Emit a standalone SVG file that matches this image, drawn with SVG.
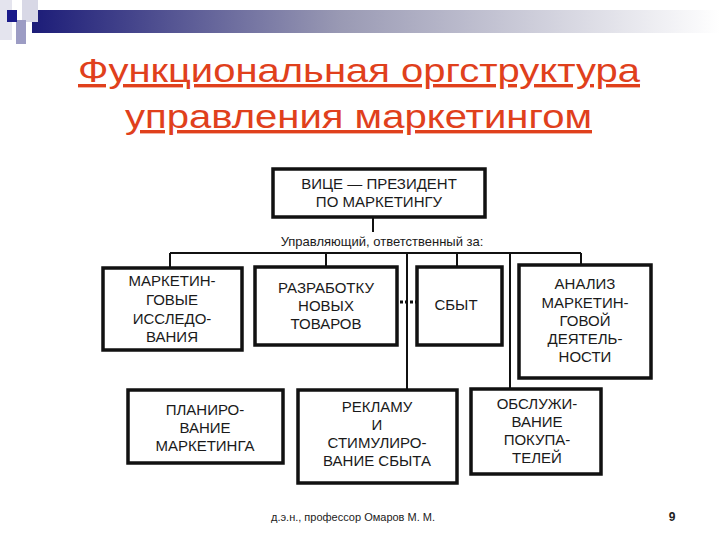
<svg xmlns="http://www.w3.org/2000/svg" width="720" height="540" viewBox="0 0 720 540">
<defs>
<linearGradient id="g" x1="0" x2="1" y1="0" y2="0">
<stop offset="0" stop-color="#1c1c78"/><stop offset="0.45" stop-color="#9a9ab4"/><stop offset="1" stop-color="#ffffff"/>
</linearGradient>
<style>
.box{fill:#fff;stroke:#111;stroke-width:3.5}
.t{font-family:"Liberation Sans",Arial,sans-serif;font-size:15px;fill:#1a1a1a;text-anchor:middle}
.ln{stroke:#111;stroke-width:2;fill:none}
.title{font-family:"Liberation Sans",Arial,sans-serif;font-size:34px;fill:#e0401c;text-decoration:underline}
</style>
</defs>
<rect width="720" height="540" fill="#fff"/>
<g id="decor">
<rect x="32" y="10" width="688" height="23" fill="url(#g)"/>
<rect x="0" y="0" width="12" height="40" fill="#e4e4ee"/>
<rect x="22" y="0" width="16" height="22" fill="#d8d8e6"/>
<rect x="16" y="20" width="10" height="24" fill="#9c9cc4"/>
<rect x="7" y="10" width="10" height="12" fill="#1a1a8a"/>
</g>
<g id="title">
<text class="title" x="78" y="82" textLength="562" lengthAdjust="spacingAndGlyphs">Функциональная оргструктура </text>
<text class="title" x="125" y="128" textLength="467" lengthAdjust="spacingAndGlyphs">управления маркетингом</text>
</g>
<g id="connectors">
<line class="ln" x1="373" y1="217" x2="373" y2="232"/>
<line class="ln" x1="170" y1="253" x2="581" y2="253"/>
<line class="ln" x1="170" y1="253" x2="170" y2="268"/>
<line class="ln" x1="326" y1="253" x2="326" y2="267"/>
<line class="ln" x1="457" y1="253" x2="457" y2="267"/>
<line class="ln" x1="581" y1="253" x2="581" y2="265"/>
<line class="ln" x1="407" y1="253" x2="407" y2="390"/>
<line class="ln" x1="510" y1="253" x2="510" y2="389"/>
<line x1="400" y1="302" x2="416" y2="302" stroke="#111" stroke-width="3" stroke-dasharray="3,2"/>
</g>
<text class="t" x="382" y="246" style="font-size:13px">Управляющий, ответственный за:</text>
<g id="vp"><rect class="box" x="273" y="169" width="212" height="48"/>
<text class="t" x="379" y="189">ВИЦЕ — ПРЕЗИДЕНТ</text><text class="t" x="379" y="207">ПО МАРКЕТИНГУ</text></g>
<g id="n1"><rect class="box" x="103" y="268" width="139" height="82"/>
<text class="t" x="172" y="286">МАРКЕТИН-</text><text class="t" x="172" y="305">ГОВЫЕ</text><text class="t" x="172" y="324">ИССЛЕДО-</text><text class="t" x="172" y="342">ВАНИЯ</text></g>
<g id="n2"><rect class="box" x="255" y="267" width="142" height="78"/>
<text class="t" x="326" y="293">РАЗРАБОТКУ</text><text class="t" x="326" y="311">НОВЫХ</text><text class="t" x="326" y="329">ТОВАРОВ</text></g>
<g id="n3"><rect class="box" x="417" y="267" width="85" height="78"/>
<text class="t" x="456" y="310">СБЫТ</text></g>
<g id="n4"><rect class="box" x="519" y="265" width="132" height="113"/>
<text class="t" x="585" y="289">АНАЛИЗ</text><text class="t" x="585" y="308">МАРКЕТИН-</text><text class="t" x="585" y="326">ГОВОЙ</text><text class="t" x="585" y="344">ДЕЯТЕЛЬ-</text><text class="t" x="585" y="362">НОСТИ</text></g>
<g id="n5"><rect class="box" x="128" y="390" width="155" height="73"/>
<text class="t" x="205" y="415">ПЛАНИРО-</text><text class="t" x="205" y="433">ВАНИЕ</text><text class="t" x="205" y="451">МАРКЕТИНГА</text></g>
<g id="n6"><rect class="box" x="298" y="390" width="159" height="93"/>
<text class="t" x="377" y="412">РЕКЛАМУ</text><text class="t" x="377" y="430">И</text><text class="t" x="377" y="448">СТИМУЛИРО-</text><text class="t" x="377" y="466">ВАНИЕ СБЫТА</text></g>
<g id="n7"><rect class="box" x="471" y="389" width="130" height="85"/>
<text class="t" x="537" y="409">ОБСЛУЖИ-</text><text class="t" x="537" y="427">ВАНИЕ</text><text class="t" x="537" y="445">ПОКУПА-</text><text class="t" x="537" y="463">ТЕЛЕЙ</text></g>
<g id="footer">
<text x="353" y="521" style="font-family:'Liberation Sans',Arial,sans-serif;font-size:11px;text-anchor:middle;fill:#222">д.э.н., профессор Омаров М. М.</text>
<text x="672" y="521" style="font-family:'Liberation Sans',Arial,sans-serif;font-size:12px;font-weight:bold;text-anchor:middle;fill:#222">9</text>
</g>
</svg>
